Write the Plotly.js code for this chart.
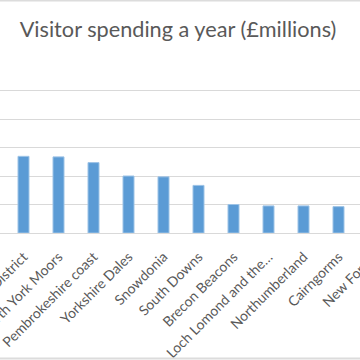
<!DOCTYPE html>
<html>
<head>
<meta charset="utf-8">
<script src="https://cdn.plot.ly/plotly-3.0.1.min.js"></script>
<style>
html,body{margin:0;padding:0;width:360px;height:360px;overflow:hidden;background:#fff;}
#chart{position:absolute;left:0;top:0;width:400px;height:360px;}
</style>
</head>
<body>
<div id="chart"></div>
<script>
const parks = ["Peak District","North York Moors","Pembrokeshire coast","Yorkshire Dales","Snowdonia","South Downs","Brecon Beacons","Loch Lomond and the…","Northumberland","Cairngorms","New Forest"];
const spending = [538, 534, 494, 400, 394, 334, 200, 190, 190, 185, 123];
const yTicks = [0, 200, 400, 600, 800, 1000, 1200];

const trace = {
  type: 'bar',
  x: parks,
  y: spending,
  marker: {color: '#5b9bd5', line: {color: '#9dc3e6', width: 1}},
  hoverinfo: 'x+y'
};

const pxTop = 62, pxBase = 233, H = 360;
const plotH = pxBase - pxTop;
function paperY(px){ return (pxBase - px) / plotH; }

const layout = {
  width: 400, height: 360,
  margin: {l: 0, r: 0, t: pxTop, b: H - pxBase, pad: 0},
  paper_bgcolor: '#ffffff', plot_bgcolor: '#ffffff',
  showlegend: false,
  bargap: 0.686,
  title: {
    text: 'Visitor spending a year (£millions)',
    font: {family: 'Lato, "Open Sans", sans-serif', size: 21.7, color: '#595959'},
    x: 178/400, xanchor: 'center', xref: 'paper',
    y: 1 - 29/360, yanchor: 'middle', yref: 'container'
  },
  xaxis: {
    type: 'category',
    range: [-23.5/35, -23.5/35 + 400/35],
    tickangle: -45,
    tickfont: {family: 'Lato, "Open Sans", sans-serif', size: 14, color: '#595959'},
    ticks: '', showline: false, showgrid: false, zeroline: false,
    automargin: false, ticklabelstandoff: 12, fixedrange: true
  },
  yaxis: {
    range: [0, 1200],
    tickvals: yTicks,
    showticklabels: false,
    showgrid: true, gridcolor: '#d9d9d9', gridwidth: 1,
    zeroline: true, zerolinecolor: '#d9d9d9', zerolinewidth: 1,
    showline: false, ticks: '', automargin: false, fixedrange: true
  },
  shapes: [
    {type: 'line', xref: 'paper', yref: 'paper', x0: 0, x1: 1, y0: paperY(0.5), y1: paperY(0.5), line: {color: '#dcdcdc', width: 2}},
    {type: 'line', xref: 'paper', yref: 'paper', x0: 0, x1: 1, y0: paperY(358.5), y1: paperY(358.5), line: {color: '#dcdcdc', width: 2}}
  ]
};

Plotly.newPlot('chart', [trace], layout, {displayModeBar: false, staticPlot: true});
</script>
</body>
</html>
